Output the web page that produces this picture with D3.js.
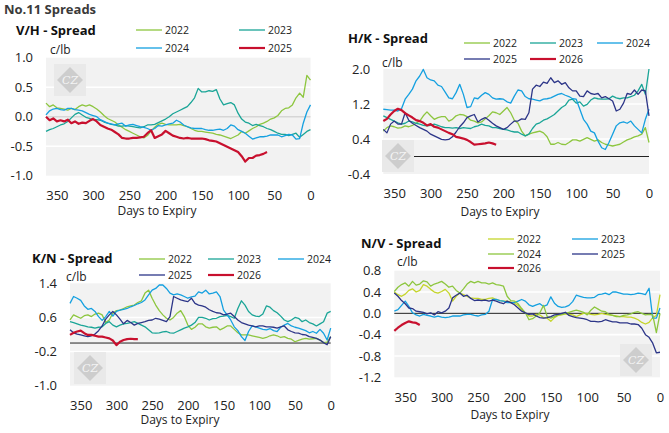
<!DOCTYPE html>
<html>
<head>
<meta charset="utf-8">
<script src="https://cdn.jsdelivr.net/npm/d3@7"></script>
<style>
  body { margin: 0; background: #fff; font-family: "Open Sans", sans-serif; }
  text { fill: #222; }
</style>
</head>
<body>
<svg id="chart" width="669" height="433"></svg>
<script>
// days to expiry, one value every 5 days (365 -> 0)
var days = [365, 360, 355, 350, 345, 340, 335, 330, 325, 320,
            315, 310, 305, 300, 295, 290, 285, 280, 275, 270,
            265, 260, 255, 250, 245, 240, 235, 230, 225, 220,
            215, 210, 205, 200, 195, 190, 185, 180, 175, 170,
            165, 160, 155, 150, 145, 140, 135, 130, 125, 120,
            115, 110, 105, 100, 95, 90, 85, 80, 75, 70,
            65, 60, 55, 50, 45, 40, 35, 30, 25, 20,
            15, 10, 5, 0];
var xTicks = [350, 300, 250, 200, 150, 100, 50, 0];

// ---- V/H spread (c/lb)
var vhTicks = [1.0, 0.5, 0.0, -0.5, -1.0];
var vh2022 = [0.23, 0.17, 0.20, 0.15, 0.14, 0.13, 0.11, 0.14, 0.12, 0.17,
              0.20, 0.18, 0.20, 0.17, 0.13, 0.08, 0.02, -0.03, -0.06, -0.09,
              -0.14, -0.18, -0.22, -0.25, -0.28, -0.31, -0.34, -0.36, -0.32, -0.24,
              -0.18, -0.13, -0.11, -0.13, -0.14, -0.14, -0.14, -0.13, -0.15, -0.17,
              -0.20, -0.23, -0.25, -0.25, -0.26, -0.27, -0.28, -0.30, -0.31, -0.33,
              -0.35, -0.37, -0.34, -0.31, -0.25, -0.28, -0.24, -0.20, -0.17, -0.13,
              -0.11, -0.08, -0.04, -0.02, 0.02, 0.10, 0.14, 0.15, 0.20, 0.32,
              0.40, 0.33, 0.70, 0.62];
var vh2023 = [-0.25, -0.22, -0.20, -0.17, -0.14, -0.12, -0.08, -0.02, 0.04, 0.07,
              0.03, -0.01, -0.03, -0.05, -0.05, -0.06, -0.09, -0.11, -0.13, -0.14,
              -0.16, -0.16, -0.15, -0.16, -0.17, -0.18, -0.19, -0.17, -0.14, -0.14,
              -0.13, -0.10, -0.07, -0.04, 0.00, 0.05, 0.08, 0.11, 0.14, 0.17,
              0.24, 0.32, 0.48, 0.42, 0.42, 0.44, 0.43, 0.46, 0.30, 0.20,
              0.22, 0.24, 0.20, 0.06, -0.04, -0.09, -0.11, -0.15, -0.13, -0.15,
              -0.17, -0.20, -0.22, -0.25, -0.28, -0.30, -0.30, -0.32, -0.30, -0.28,
              -0.35, -0.30, -0.25, -0.22];
var vh2024 = [0.03, 0.10, 0.13, 0.14, 0.12, 0.11, 0.14, 0.14, 0.12, 0.11,
              0.10, 0.07, 0.04, 0.02, 0.00, -0.05, -0.08, -0.11, -0.12, -0.14,
              -0.12, -0.11, -0.16, -0.14, -0.13, -0.15, -0.17, -0.18, -0.20, -0.23,
              -0.20, -0.15, -0.16, -0.14, -0.12, -0.11, -0.06, -0.09, -0.14, -0.17,
              -0.19, -0.20, -0.20, -0.20, -0.22, -0.23, -0.23, -0.22, -0.21, -0.23,
              -0.20, -0.14, -0.16, -0.22, -0.25, -0.28, -0.33, -0.38, -0.36, -0.34,
              -0.34, -0.33, -0.31, -0.31, -0.31, -0.34, -0.32, -0.30, -0.31, -0.38,
              -0.37, -0.11, 0.08, 0.20];
var vh2025 = [0.00, -0.06, -0.03, -0.08, -0.06, -0.08, -0.05, -0.11, -0.08, -0.12,
              -0.10, -0.11, -0.07, -0.04, -0.08, -0.14, -0.17, -0.20, -0.22, -0.26,
              -0.30, -0.36, -0.37, -0.37, -0.36, -0.36, -0.35, -0.34, -0.28, -0.23,
              -0.36, -0.33, -0.30, -0.24, -0.28, -0.32, -0.34, -0.36, -0.37, -0.36,
              -0.37, -0.37, -0.37, -0.37, -0.38, -0.40, -0.41, -0.42, -0.45, -0.48,
              -0.51, -0.54, -0.57, -0.60, -0.67, -0.76, -0.70, -0.70, -0.66, -0.65,
              -0.63, -0.60];

// ---- H/K spread (c/lb)
var hkTicks = [2.0, 1.2, 0.4, -0.4];
var hk2022 = [0.58, 0.66, 0.70, 0.68, 0.65, 0.66, 0.70, 0.68, 0.71, 0.76,
              0.81, 0.93, 1.02, 0.93, 0.85, 0.89, 0.91, 0.91, 0.81, 0.85,
              0.93, 0.96, 0.95, 0.91, 0.83, 0.81, 0.77, 0.79, 0.86, 0.93,
              1.02, 1.00, 0.96, 1.04, 1.12, 1.00, 0.83, 0.76, 0.58, 0.47,
              0.51, 0.54, 0.56, 0.58, 0.54, 0.45, 0.28, 0.28, 0.32, 0.28,
              0.27, 0.32, 0.38, 0.38, 0.35, 0.39, 0.43, 0.39, 0.35, 0.38,
              0.32, 0.28, 0.26, 0.24, 0.26, 0.28, 0.33, 0.38, 0.41, 0.45,
              0.47, 0.51, 0.66, 0.32];
var hk2023 = [0.93, 0.89, 0.85, 0.81, 0.77, 0.74, 0.76, 0.81, 0.79, 0.76,
              0.74, 0.71, 0.70, 0.71, 0.74, 0.71, 0.68, 0.66, 0.66, 0.65,
              0.66, 0.64, 0.66, 0.65, 0.64, 0.68, 0.70, 0.74, 0.71, 0.70,
              0.66, 0.66, 0.64, 0.62, 0.61, 0.58, 0.56, 0.56, 0.51, 0.47,
              0.51, 0.64, 0.74, 0.77, 0.83, 0.86, 0.91, 0.96, 1.04, 1.12,
              1.17, 1.29, 1.31, 1.22, 1.25, 1.15, 1.19, 1.29, 1.34, 1.32,
              1.31, 1.31, 1.32, 1.38, 1.34, 1.32, 1.34, 1.34, 1.37, 1.40,
              1.50, 1.65, 1.42, 2.00];
var hk2024 = [1.08, 1.07, 1.06, 1.06, 1.04, 1.09, 1.31, 1.42, 1.54, 1.73,
              1.84, 1.99, 1.80, 1.75, 1.73, 1.63, 1.60, 1.47, 1.34, 1.32,
              1.46, 1.65, 1.42, 1.12, 1.14, 1.34, 1.32, 1.40, 1.46, 1.42,
              1.34, 1.31, 1.32, 1.31, 1.25, 1.22, 1.38, 1.52, 1.50, 1.37,
              1.32, 1.31, 1.29, 1.27, 1.31, 1.32, 1.34, 1.38, 1.42, 1.44,
              1.40, 1.37, 1.32, 1.31, 1.08, 0.85, 0.74, 0.58, 0.54, 0.35,
              0.20, 0.16, 0.32, 0.51, 0.70, 0.77, 0.79, 0.76, 0.81, 0.70,
              0.62, 0.54, 0.85, 1.08];
var hk2025 = [0.62, 0.54, 0.74, 0.81, 0.74, 0.74, 1.00, 0.83, 0.76, 0.71,
              0.66, 0.62, 0.58, 0.51, 0.47, 0.43, 0.39, 0.38, 0.39, 0.45,
              0.56, 0.68, 0.77, 0.89, 0.93, 0.96, 0.79, 0.85, 0.89, 0.83,
              0.76, 0.70, 0.66, 0.62, 0.66, 0.74, 0.81, 0.81, 0.86, 0.85,
              1.00, 1.54, 1.63, 1.60, 1.70, 1.67, 1.80, 1.69, 1.73, 1.65,
              1.69, 1.57, 1.50, 1.50, 1.38, 1.37, 1.50, 1.44, 1.42, 1.44,
              1.34, 1.37, 1.32, 1.27, 1.04, 1.08, 1.22, 1.44, 1.42, 1.52,
              1.42, 1.52, 1.50, 0.93];
var hk2026 = [0.81, 0.86, 0.96, 1.04, 1.09, 1.06, 0.99, 0.94, 0.89, 0.83,
              0.81, 0.77, 0.71, 0.74, 0.68, 0.66, 0.62, 0.58, 0.54, 0.51,
              0.45, 0.43, 0.41, 0.38, 0.33, 0.27, 0.28, 0.29, 0.30, 0.32,
              0.30, 0.27];

// ---- K/N spread (c/lb)
var knTicks = [1.4, 0.6, -0.2, -1.0];
var kn2022 = [0.54, 0.66, 0.62, 0.58, 0.64, 0.66, 0.62, 0.68, 0.70, 0.66,
              0.48, 0.54, 0.70, 0.76, 0.77, 0.81, 0.85, 0.87, 0.89, 0.95,
              0.99, 1.17, 1.24, 1.05, 0.89, 0.76, 0.66, 0.58, 0.54, 0.60,
              0.70, 0.76, 0.62, 0.42, 0.32, 0.37, 0.45, 0.45, 0.38, 0.35,
              0.37, 0.38, 0.31, 0.35, 0.40, 0.40, 0.32, 0.24, 0.19, 0.19,
              0.19, 0.17, 0.15, 0.13, 0.11, 0.13, 0.17, 0.19, 0.17, 0.13,
              0.15, 0.11, 0.09, 0.03, 0.06, 0.09, 0.11, 0.09, 0.10, 0.11,
              0.07, 0.01, 0.02, 0.15];
var kn2023 = [0.50, 0.48, 0.45, 0.42, 0.40, 0.38, 0.37, 0.35, 0.37, 0.38,
              0.46, 0.50, 0.42, 0.38, 0.42, 0.45, 0.46, 0.48, 0.50, 0.46,
              0.42, 0.38, 0.31, 0.24, 0.23, 0.24, 0.26, 0.27, 0.24, 0.23,
              0.27, 0.31, 0.35, 0.38, 0.42, 0.48, 0.60, 0.60, 0.58, 0.54,
              0.57, 0.58, 0.62, 0.63, 0.65, 0.62, 0.58, 0.81, 0.99, 0.89,
              0.74, 0.66, 0.63, 0.62, 0.68, 0.87, 0.84, 0.76, 0.71, 0.63,
              0.54, 0.50, 0.54, 0.60, 0.58, 0.50, 0.54, 0.48, 0.45, 0.40,
              0.45, 0.50, 0.70, 0.74];
var kn2024 = [0.93, 1.09, 1.05, 1.00, 0.87, 0.79, 0.81, 0.74, 0.62, 0.53,
              0.62, 0.74, 0.63, 0.74, 0.77, 0.79, 0.81, 0.85, 0.88, 0.92,
              0.95, 1.01, 1.13, 1.24, 1.28, 1.36, 1.36, 1.28, 1.17, 1.13,
              1.15, 1.13, 1.09, 1.05, 1.08, 1.10, 1.20, 1.17, 1.24, 1.15,
              1.17, 1.20, 1.09, 0.77, 0.66, 0.54, 0.38, 0.29, 0.15, 0.06,
              0.27, 0.40, 0.38, 0.35, 0.32, 0.31, 0.34, 0.29, 0.27, 0.37,
              0.42, 0.46, 0.40, 0.37, 0.35, 0.32, 0.29, 0.24, 0.27, 0.23,
              0.32, 0.23, 0.07, 0.35];
var kn2025 = [0.31, 0.24, 0.21, 0.19, 0.17, 0.15, 0.17, 0.21, 0.29, 0.40,
              0.56, 0.66, 0.74, 0.66, 0.56, 0.45, 0.53, 0.48, 0.42, 0.46,
              0.48, 0.50, 0.53, 0.54, 0.58, 0.56, 0.53, 0.50, 0.62, 1.09,
              1.05, 1.01, 0.99, 0.97, 1.05, 0.93, 0.89, 0.87, 0.84, 0.78,
              0.74, 0.71, 0.70, 0.66, 0.68, 0.70, 0.62, 0.54, 0.48, 0.45,
              0.42, 0.40, 0.38, 0.40, 0.40, 0.38, 0.38, 0.37, 0.35, 0.38,
              0.40, 0.31, 0.27, 0.24, 0.23, 0.20, 0.19, 0.15, 0.13, 0.11,
              0.07, 0.01, -0.04, 0.15];
var kn2026 = [0.19, 0.24, 0.27, 0.29, 0.23, 0.19, 0.19, 0.17, 0.15, 0.15,
              0.13, 0.11, 0.06, -0.05, 0.03, 0.07, 0.09, 0.10, 0.09, 0.09];

// ---- N/V spread (c/lb)
var nvTicks = [0.8, 0.4, 0.0, -0.4, -0.8, -1.2];
var nv2022 = [0.40, 0.35, 0.32, 0.36, 0.43, 0.46, 0.40, 0.43, 0.54, 0.51,
              0.45, 0.40, 0.38, 0.41, 0.45, 0.38, 0.23, 0.32, 0.38, 0.35,
              0.32, 0.29, 0.28, 0.28, 0.26, 0.26, 0.28, 0.29, 0.26, 0.24,
              0.23, 0.23, 0.21, 0.19, 0.15, 0.07, 0.01, -0.05, -0.05, -0.02,
              -0.03, -0.08, -0.09, -0.15, -0.08, -0.04, -0.03, -0.01, -0.02, -0.03,
              -0.06, -0.03, 0.00, 0.00, -0.02, -0.03, -0.02, 0.00, -0.02, -0.03,
              -0.04, -0.05, -0.06, -0.06, -0.07, -0.07, -0.09, -0.12, -0.17, -0.20,
              -0.17, -0.08, -0.04, 0.35];
var nv2023 = [0.04, 0.07, 0.15, 0.23, 0.13, 0.01, -0.03, -0.05, -0.02, -0.04,
              -0.05, -0.07, -0.05, -0.07, -0.08, -0.07, -0.05, -0.05, -0.05, -0.03,
              -0.02, -0.02, -0.04, -0.05, -0.03, -0.02, 0.04, 0.26, 0.26, 0.24,
              0.23, 0.20, 0.20, 0.20, 0.23, 0.26, 0.23, 0.16, 0.13, 0.16,
              0.18, 0.13, 0.16, 0.31, 0.19, 0.13, 0.11, 0.12, 0.15, 0.22,
              0.34, 0.32, 0.30, 0.29, 0.29, 0.30, 0.35, 0.36, 0.38, 0.35,
              0.40, 0.40, 0.38, 0.36, 0.36, 0.35, 0.36, 0.38, 0.37, 0.35,
              0.47, -0.09, -0.09, 0.10];
var nv2024 = [0.41, 0.49, 0.54, 0.57, 0.51, 0.60, 0.53, 0.55, 0.61, 0.59,
              0.51, 0.55, 0.57, 0.60, 0.55, 0.49, 0.51, 0.43, 0.38, 0.46,
              0.55, 0.60, 0.57, 0.60, 0.57, 0.57, 0.55, 0.57, 0.54, 0.53,
              0.51, 0.32, 0.24, 0.23, 0.18, 0.09, 0.01, -0.12, -0.10, -0.05,
              0.01, 0.15, -0.06, -0.09, -0.06, -0.03, -0.02, 0.00, 0.02, 0.04,
              0.06, 0.04, 0.02, -0.03, 0.06, 0.12, 0.08, 0.04, 0.03, -0.02,
              -0.04, -0.06, -0.06, -0.04, -0.03, -0.01, 0.02, 0.03, 0.00, -0.03,
              -0.02, -0.03, -0.36, 0.00];
var nv2025 = [0.38, 0.32, 0.24, 0.18, 0.10, 0.09, 0.04, 0.03, 0.02, -0.01,
              0.01, -0.03, 0.03, 0.01, 0.04, 0.10, 0.29, 0.34, 0.38, 0.32,
              0.34, 0.28, 0.24, 0.25, 0.24, 0.25, 0.23, 0.25, 0.23, 0.20,
              0.18, 0.23, 0.20, 0.16, 0.10, 0.04, 0.01, -0.02, -0.01, -0.05,
              -0.08, -0.09, -0.08, -0.06, -0.03, -0.02, 0.00, 0.02, -0.04, -0.06,
              -0.08, -0.09, -0.10, -0.12, -0.15, -0.15, -0.16, -0.15, -0.12, -0.14,
              -0.16, -0.16, -0.18, -0.18, -0.18, -0.20, -0.20, -0.21, -0.28, -0.40,
              -0.45, -0.56, -0.74, -0.73];
var nv2026 = [-0.33, -0.27, -0.22, -0.18, -0.15, -0.17, -0.18, -0.22];

// colours
var cGreen = '#8dc63f', cTeal = '#1aa597', cBlue = '#14a0e0',
    cNavy = '#2c3588', cRed = '#c8102e', cYellow = '#c5d52a';

var svg = d3.select('#chart');

svg.append('text')
    .attr('x', 4).attr('y', 14)
    .style('font-size', '13px').style('font-weight', 'bold').style('fill', '#3a3a3a')
    .text('No.11 Spreads');

function fmt(d) { return d.toFixed(1); }

// draws the watermark diamond
function drawMark(g, cx, cy) {
    var m = g.append('g').attr('transform', 'translate(' + [cx, cy] + ')');
    m.append('rect').attr('x', -16).attr('y', -16).attr('width', 32).attr('height', 32)
        .attr('fill', '#e9e9e9');
    m.append('path').attr('d', 'M0,-13L13,0L0,13L-13,0Z').attr('fill', '#cdcdcd');
    m.append('text').attr('text-anchor', 'middle').attr('y', 4)
        .style('font-family', 'DejaVu Serif, serif').style('font-style', 'italic')
        .style('font-size', '11px').style('fill', '#f4f4f4')
        .text('CZ');
}

function drawPanel(p) {
    var x = d3.scaleLinear().domain([365, 0]).range([p.x0, p.x1]);
    var y = d3.scaleLinear().domain([p.ticks[p.ticks.length - 1], p.ticks[0]]).range([p.y1, p.y0]);
    var g = svg.append('g');

    g.append('rect')
        .attr('x', p.x0).attr('y', p.y0)
        .attr('width', p.x1 - p.x0).attr('height', p.y1 - p.y0)
        .attr('fill', '#f2f2f2');

    // white gridlines at the inner ticks
    g.selectAll('.grid')
        .data(p.ticks.slice(1, -1).filter(function(t) { return t !== 0 || p.zeroColor === null; }))
        .enter().append('line')
        .attr('x1', p.x0).attr('x2', p.x1)
        .attr('y1', function(d) { return y(d); }).attr('y2', function(d) { return y(d); })
        .attr('stroke', '#fff').attr('stroke-width', 1.6);

    if (p.zeroColor) {
        g.append('line')
            .attr('x1', p.x0).attr('x2', p.x1)
            .attr('y1', y(0)).attr('y2', y(0))
            .attr('stroke', p.zeroColor).attr('stroke-width', p.zeroWidth);
    }

    drawMark(g, p.mark[0], p.mark[1]);

    var line = d3.line()
        .x(function(d, i) { return x(days[i]); })
        .y(function(d) { return y(d); });

    p.series.forEach(function(s) {
        g.append('path')
            .datum(s.values)
            .attr('d', line)
            .attr('fill', 'none')
            .attr('stroke', s.color)
            .attr('stroke-width', s.width)
            .attr('stroke-linejoin', 'round');
    });

    // axes
    var yAxis = g.append('g')
        .attr('transform', 'translate(' + p.x0 + ',0)')
        .call(d3.axisLeft(y).tickValues(p.ticks).tickSize(0).tickPadding(13).tickFormat(fmt));
    yAxis.select('.domain').remove();
    yAxis.selectAll('text').style('font-size', '13px').style('font-family', 'Open Sans').style('fill', '#222');

    var xAxis = g.append('g')
        .attr('transform', 'translate(0,' + p.y1 + ')')
        .call(d3.axisBottom(x).tickValues(xTicks).tickSize(0).tickPadding(15));
    xAxis.select('.domain').remove();
    xAxis.selectAll('text').style('font-size', '13px').style('font-family', 'Open Sans').style('fill', '#222');

    g.append('text')
        .attr('x', p.xLabel[0]).attr('y', p.xLabel[1] + 1)
        .attr('text-anchor', 'middle')
        .style('font-size', '12px')
        .text('Days to Expiry');

    g.append('text')
        .attr('x', p.title[0]).attr('y', p.title[1])
        .style('font-size', '13px').style('font-weight', 'bold').style('fill', '#111')
        .text(p.name);

    g.append('text')
        .attr('x', p.unit[0]).attr('y', p.unit[1])
        .style('font-size', '12px')
        .text('c/lb');

    // legend
    p.series.forEach(function(s, i) {
        var pos = p.legend[i];
        g.append('line')
            .attr('x1', pos[0]).attr('x2', pos[0] + 26)
            .attr('y1', pos[1]).attr('y2', pos[1])
            .attr('stroke', s.color).attr('stroke-width', s.width);
        g.append('text')
            .attr('x', pos[0] + 29).attr('y', pos[1] + 4)
            .style('font-size', '10.5px')
            .text(s.label);
    });
}

drawPanel({
    name: 'V/H - Spread', x0: 46, x1: 310.5, y0: 57.7, y1: 175.7,
    ticks: vhTicks, zeroColor: '#d6d6d6', zeroWidth: 1.6,
    title: [16, 35], unit: [50, 54], xLabel: [157, 214], mark: [70, 80],
    legend: [[136, 30], [239, 30], [136, 48], [239, 48]],
    series: [
        {label: '2022', values: vh2022, color: cGreen, width: 1.3},
        {label: '2023', values: vh2023, color: cTeal, width: 1.3},
        {label: '2024', values: vh2024, color: cBlue, width: 1.3},
        {label: '2025', values: vh2025, color: cRed, width: 2.2}
    ]
});

drawPanel({
    name: 'H/K - Spread', x0: 383.3, x1: 649, y0: 69, y1: 174,
    ticks: hkTicks, zeroColor: '#222', zeroWidth: 1,
    title: [348, 43], unit: [382, 67], xLabel: [500, 215], mark: [398, 156],
    legend: [[464, 43], [530, 43], [597, 43], [464, 59], [530, 59]],
    series: [
        {label: '2022', values: hk2022, color: cGreen, width: 1.3},
        {label: '2023', values: hk2023, color: cTeal, width: 1.3},
        {label: '2024', values: hk2024, color: cBlue, width: 1.3},
        {label: '2025', values: hk2025, color: cNavy, width: 1.3},
        {label: '2026', values: hk2026, color: cRed, width: 2.2}
    ]
});

drawPanel({
    name: 'K/N - Spread', x0: 70, x1: 330.7, y0: 283.3, y1: 385.7,
    ticks: knTicks, zeroColor: '#222', zeroWidth: 1,
    title: [32, 263], unit: [66, 281], xLabel: [180, 423], mark: [90, 368],
    legend: [[139, 259], [208, 259], [278, 259], [139, 275], [208, 275]],
    series: [
        {label: '2022', values: kn2022, color: cGreen, width: 1.3},
        {label: '2023', values: kn2023, color: cTeal, width: 1.3},
        {label: '2024', values: kn2024, color: cBlue, width: 1.3},
        {label: '2025', values: kn2025, color: cNavy, width: 1.3},
        {label: '2026', values: kn2026, color: cRed, width: 2.2}
    ]
});

drawPanel({
    name: 'N/V - Spread', x0: 394.3, x1: 660, y0: 270.7, y1: 377.3,
    ticks: nvTicks, zeroColor: '#222', zeroWidth: 1,
    title: [361, 248], unit: [397, 266], xLabel: [510, 418], mark: [636, 360],
    legend: [[488, 239], [572, 239], [488, 254], [572, 254], [488, 268]],
    series: [
        {label: '2022', values: nv2022, color: cYellow, width: 1.3},
        {label: '2023', values: nv2023, color: cBlue, width: 1.3},
        {label: '2024', values: nv2024, color: cGreen, width: 1.3},
        {label: '2025', values: nv2025, color: cNavy, width: 1.3},
        {label: '2026', values: nv2026, color: cRed, width: 2.2}
    ]
});
</script>
</body>
</html>
